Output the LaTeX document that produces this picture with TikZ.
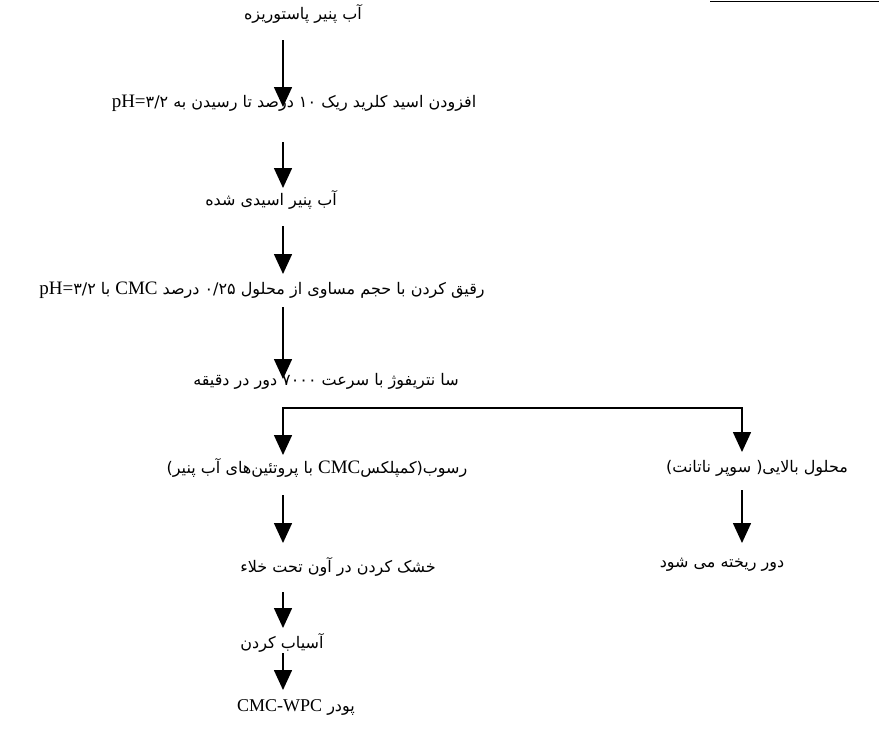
\documentclass[tikz,border=0pt]{standalone}
\usepackage{fontspec}
\setmainfont{Liberation Serif}
\newfontfamily\farsi[Script=Arabic]{DejaVu Sans}
\TeXXeTstate=1
\usetikzlibrary{arrows.meta}
\newcommand\lat[1]{{\rmfamily\fontsize{19}{20}\selectfont #1}}

\begin{document}
\begin{tikzpicture}[x=1pt,y=-1pt,
  flow/.style={-{Triangle[length=20pt,width=18pt]},line width=1.6pt},
  stage/.style={inner sep=0pt,font=\farsi\fontsize{16}{18}\selectfont}]
  \useasboundingbox (0,0) rectangle (879,744);
  \draw[line width=1pt] (710,1)--(879,1);
  \coordinate (col) at (283,0);
  \coordinate (rcol) at (742,0);
  \coordinate (fork) at (283,408);
  \node[stage] (n1) at (303,14) {\beginR آب پنیر پاستوریزه\endR};
  \node[stage] (n2) at (294,103) {\beginR افزودن اسید کلرید ریک \beginL۱۰\endL{} درصد تا رسیدن به \beginL\lat{pH=}۳/۲\endL\endR};
  \node[stage] (n3) at (271,200) {\beginR آب پنیر اسیدی شده\endR};
  \node[stage] (n4) at (262,290) {\beginR رقیق کردن با حجم مساوی از محلول \beginL۰/۲۵\endL{} درصد \beginL\lat{CMC}\endL{} با \beginL\lat{pH=}۳/۲\endL\endR};
  \node[stage] (n5) at (326,381) {\beginR سا نتریفوژ با سرعت \beginL۷۰۰۰\endL{} دور در دقیقه\endR};
  \node[stage] (n6) at (317,468) {\beginR رسوب(کمپلکس\beginL\lat{CMC}\endL{} با پروتئین‌های آب پنیر)\endR};
  \node[stage] (n7) at (757,468) {\beginR محلول بالایی( سوپر ناتانت)\endR};
  \node[stage] (n8) at (338,567) {\beginR خشک کردن در آون تحت خلاء\endR};
  \node[stage] (n11) at (722,565) {\beginR دور ریخته می شود\endR};
  \node[stage] (n9) at (282,643) {\beginR آسیاب کردن\endR};
  \node[stage] (n10) at (296,707) {\beginR پودر \beginL{\rmfamily\fontsize{18}{20}\selectfont CMC-WPC}\endL\endR};
  \draw[flow,shorten <=26pt,shorten >=-4pt] (n1 -| col)--(n2 -| col);
  \draw[flow,shorten <=39pt,shorten >=12pt] (n2 -| col)--(n3 -| col);
  \draw[flow,shorten <=26pt,shorten >=16pt] (n3 -| col)--(n4 -| col);
  \draw[flow,shorten <=17pt,shorten >=2pt] (n4 -| col)--(n5 -| col);
  \draw[{Triangle[length=20pt,width=18pt]}-{Triangle[length=20pt,width=18pt]},line width=1.6pt,shorten <=13pt,shorten >=16pt]
    (n6 -| fork)--(fork)-|(n7 -| rcol);
  \draw[flow,shorten <=27pt,shorten >=24pt] (n6 -| col)--(n8 -| col);
  \draw[flow,shorten <=22pt,shorten >=22pt] (n7 -| rcol)--(n11 -| rcol);
  \draw[flow,shorten <=25pt,shorten >=15pt] (n8 -| col)--(n9 -| col);
  \draw[flow,shorten <=10pt,shorten >=17pt] (n9 -| col)--(n10 -| col);
\end{tikzpicture}
\end{document}
